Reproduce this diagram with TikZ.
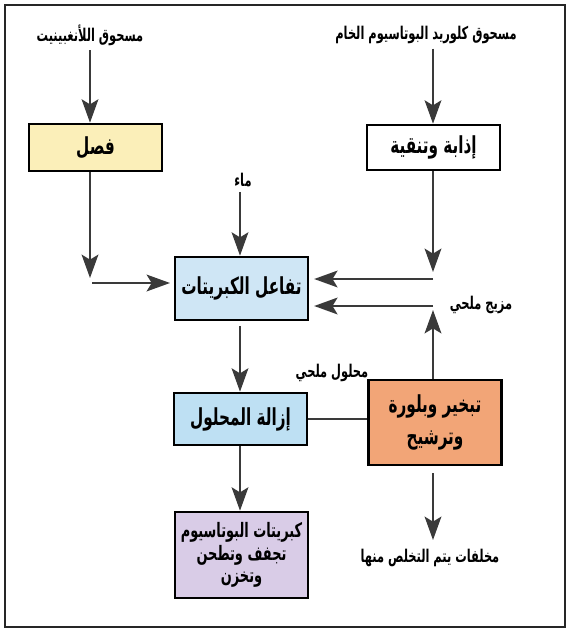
\documentclass[tikz,border=0pt]{standalone}
\usepackage{fontspec}
\usetikzlibrary{arrows.meta}
\TeXXeTstate=1
\newfontfamily\arabicfont[Script=Arabic, FakeStretch=0.65]{DejaVu Sans}

\definecolor{faslcol}{HTML}{FBEFB9}
\definecolor{tafaulcol}{HTML}{CFE6F5}
\definecolor{izalacol}{HTML}{BEE0F3}
\definecolor{tabkhircol}{HTML}{F2A577}
\definecolor{kabritcol}{HTML}{D9CCE7}
\definecolor{flowcol}{HTML}{3A3A3A}

\newcommand\ar[1]{\arabicfont\beginR #1\endR}

\tikzset{
  procbox/.style={draw=black, line width=2.2pt, minimum width=4cm, align=center,
    font=\arabicfont\bfseries\fontsize{20}{22}\selectfont, inner sep=2pt},
  flowlabel/.style={font=\arabicfont\bfseries\fontsize{15}{17}\selectfont, inner sep=1pt},
}

\begin{document}
\begin{tikzpicture}[x=0.03cm, y=-0.03cm, >={Stealth[length=7mm, width=5mm, inset=1.5mm]},
    flow/.style={draw=flowcol, line width=2.2pt}]
    \useasboundingbox (0,0) rectangle (567,630);
    % frame
    \draw [line width=2pt, black!85] (5,5) rectangle (565,627);

    % boxes
    \node[procbox, fill=faslcol, minimum height=1.41cm] (fasl) at (95.5,147.5) {\ar{فصل}};
    \node[procbox, fill=white, minimum height=1.35cm] (idhaba) at (433.5,147.5) {\ar{إذابة وتنقية}};
    \node[procbox, fill=tafaulcol, minimum height=1.89cm] (tafaul) at (241.5,288.5) {\ar{تفاعل الكبريتات}};
    \node[procbox, fill=izalacol, minimum height=1.56cm] (izala) at (240.5,419) {\ar{إزالة المحلول}};
    \node[procbox, fill=tabkhircol, minimum height=2.55cm, font=\arabicfont\bfseries\fontsize{20}{27}\selectfont] (tabkhir) at (435,422.5)
        {\ar{تبخير وبلورة}\\\ar{وترشيح}};
    \node[procbox, fill=kabritcol, minimum height=2.58cm, font=\arabicfont\bfseries\fontsize{17}{19.5}\selectfont] (kabrit) at (241.5,555)
        {\ar{كبريتات البوتاسيوم}\\\ar{تجفف وتطحن}\\\ar{وتخزن}};

    % labels
    \node[flowlabel] (lang) at (90,35) {\ar{مسحوق اللأنغبينيت}};
    \node[flowlabel] (kcl) at (426,35) {\ar{مسحوق كلوريد البوتاسيوم الخام}};
    \node[flowlabel] (water) at (243,180) {\ar{ماء}};
    \node[flowlabel] (mix) at (481,305) {\ar{مزيج ملحي}};
    \node[flowlabel] (brine) at (332,373) {\ar{محلول ملحي}};
    \node[flowlabel] (waste) at (430,558) {\ar{مخلفات يتم التخلص منها}};

    % corners
    \coordinate (ldown) at (90,278);
    \coordinate (lright) at (92,283);
    \coordinate (rdown) at (433,272);
    \coordinate (rtop) at (433,279);
    \coordinate (rbot) at (433,306);
    \coordinate (rup) at (433,310);
    \coordinate (wastetop) at (433,540);

    % inputs
    \draw [flow, ->] ([yshift=-3pt]lang.south) -- (lang.south |- fasl.north);
    \draw [flow, ->] ([yshift=-3pt]kcl.south -| rdown) -- (idhaba.north -| rdown);

    % left to reaction
    \draw [flow, ->] (fasl.south -| ldown) -- (ldown);
    \draw [flow, ->] (lright) -- ([xshift=-3pt]lright -| tafaul.west);

    % water
    \draw [flow, ->] ([yshift=-3pt]water.south -| 240,0) -- (240,0 |- tafaul.north);

    % right to reaction
    \draw [flow, ->] (idhaba.south -| rdown) -- (rdown);
    \draw [flow, ->] (rtop) -- ([xshift=4pt]rtop -| tafaul.east);
    \draw [flow, ->] (rbot) -- ([xshift=4pt]rbot -| tafaul.east);

    % salt mix back up
    \draw [flow, ->] (tabkhir.north -| rup) -- (rup);

    % down the middle
    \draw [flow, ->] ([yshift=-4pt]tafaul.south -| 240,0) -- (240,0 |- izala.north);
    \draw [flow] (izala.east) -- (izala.east -| tabkhir.west);
    \draw [flow, ->] (izala.south -| 240,0) -- (240,0 |- kabrit.north);

    % waste
    \draw [flow, ->] ([yshift=-6pt]tabkhir.south -| wastetop) -- (wastetop);
\end{tikzpicture}
\end{document}
